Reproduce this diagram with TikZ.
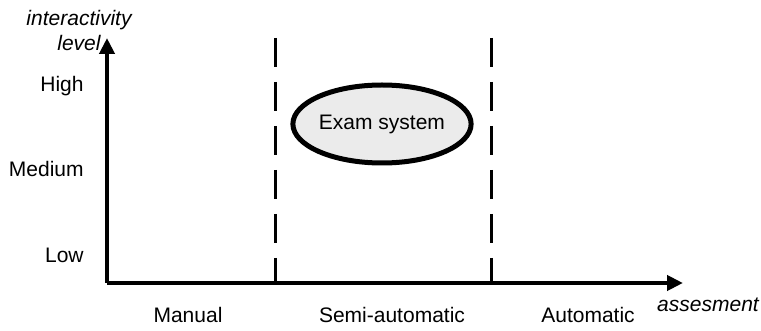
\documentclass[tikz,border=0pt]{standalone}
\usepackage{fontspec}
\setmainfont{Liberation Sans}
\usetikzlibrary{arrows.meta,shapes.geometric}

\tikzset{
  axis/.style={line width=2pt,-{Triangle[length=8pt,width=7.5pt]}},
  border/.style={line width=1.5pt,dash pattern=on 14.5pt off 7.5pt},
  lbl/.style={font=\fontsize{10.5}{12.5}\selectfont,inner sep=0pt},
  axislbl/.style={lbl,font=\fontsize{10.5}{12.5}\selectfont\itshape,align=center}
}

\begin{document}
\begin{tikzpicture}[x=0.5pt,y=-0.5pt]
\useasboundingbox (0,0) rectangle (761,331);
% axes
\coordinate (origin) at (107,283);
\coordinate (ytip) at (107,38);
\coordinate (xtip) at (683,283);
\draw[axis] (origin) -- (ytip);
\draw[axis] (origin) -- (xtip);
\node[axislbl] (ylabel) at (79,30) {interactivity\\level};
\node[axislbl] (xlabel) at (708,305) {assesment};
% levels
\node[lbl,anchor=east] (high) at (84,86) {High};
\node[lbl,anchor=east] (medium) at (84,169) {Medium};
\node[lbl,anchor=east] (low) at (84,255) {Low};
% dashed borders
\coordinate (b1top) at (275,38);
\coordinate (b1bot) at (275,283);
\coordinate (b2top) at (491,38);
\coordinate (b2bot) at (491,283);
\draw[border] (b1top) -- (b1bot);
\draw[border] (b2top) -- (b2bot);
% modes
\node[lbl] (manual) at (188,315) {Manual};
\node[lbl] (semi) at (392,315) {Semi-automatic};
\node[lbl] (auto) at (588,315) {Automatic};
% exam system
\node[lbl,ellipse,draw,line width=2.5pt,fill=black!8,
  minimum width=87.5pt,minimum height=39pt] (exam) at (382,124) {Exam system};
\end{tikzpicture}
\end{document}
